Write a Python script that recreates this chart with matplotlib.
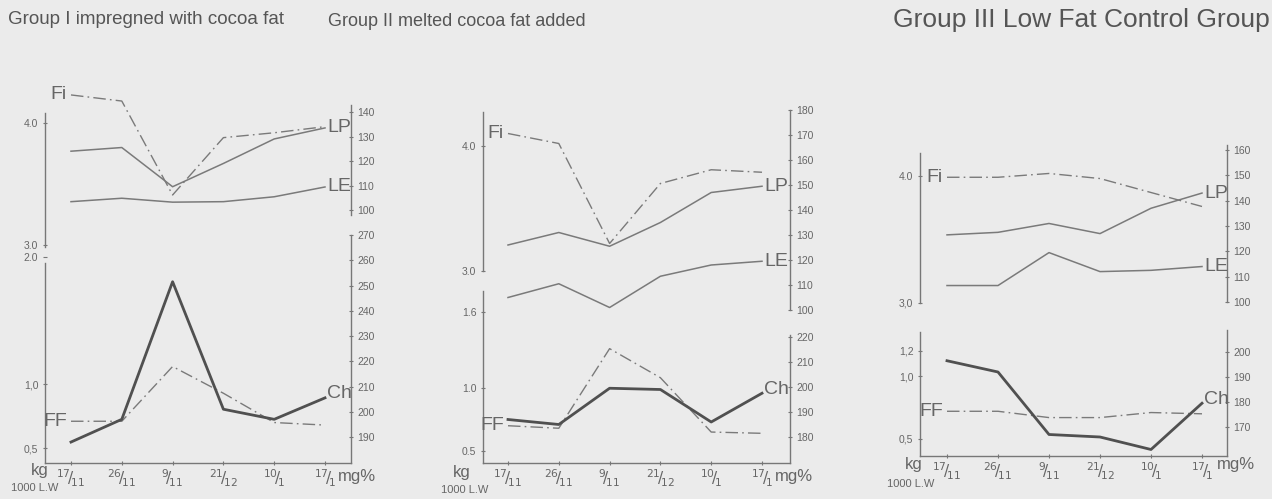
import matplotlib
matplotlib.use("Agg")
import matplotlib.pyplot as plt

# ---------------------------------------------------------------------------
# Data (six sampling dates per group)
# ---------------------------------------------------------------------------
dates = ["17/11", "26/11", "9/11", "21/12", "10/1", "17/1"]

# Group I: impregned with cocoa fat
g1_fi = [4.23, 4.18, 3.41, 3.88, 3.92, 3.97]
g1_lp = [124.0, 125.5, 109.5, 119.0, 129.0, 133.5]
g1_le = [103.4, 104.8, 103.2, 103.4, 105.4, 109.4]
g1_ff = [0.71, 0.71, 1.14, 0.93, 0.70, 0.68]
g1_ch = [188.0, 197.0, 251.5, 201.0, 197.0, 205.5]

# Group II: melted cocoa fat added
g2_fi = [4.10, 4.02, 3.22, 3.70, 3.81, 3.79]
g2_lp = [126.0, 131.0, 125.5, 135.0, 147.0, 149.5]
g2_le = [105.0, 110.5, 101.0, 113.5, 118.0, 119.5]
g2_ff = [0.70, 0.68, 1.31, 1.08, 0.65, 0.64]
g2_ch = [187.0, 185.0, 199.5, 199.0, 186.0, 197.5]

# Group III: low fat control group
g3_fi = [3.99, 3.99, 4.02, 3.98, 3.87, 3.76]
g3_lp = [126.5, 127.5, 131.0, 127.0, 137.0, 143.0]
g3_le = [106.5, 106.5, 119.5, 112.0, 112.5, 114.0]
g3_ff = [0.72, 0.72, 0.67, 0.67, 0.71, 0.70]
g3_ch = [196.5, 192.0, 167.0, 166.0, 161.0, 179.5]

titles = ["Group I impregned with cocoa fat",
          "Group II melted cocoa fat added",
          "Group III Low Fat Control Group"]

# tick labels as printed (the original mixes "." and ",")
g1_top_left = ([4.0, 3.0], ["4.0", "3.0"])
g1_bot_left = ([2.0, 1.0, 0.5], ["2.0", "1,0", "0,5"])
g2_top_left = ([4.0, 3.0], ["4.0", "3.0"])
g2_bot_left = ([1.6, 1.0, 0.5], ["1.6", "1.0", "0.5"])
g3_top_left = ([4.0, 3.0], ["4.0", "3,0"])
g3_bot_left = ([1.2, 1.0, 0.5], ["1,2", "1,0", "0,5"])
g1_top_right = list(range(100, 141, 10))
g1_bot_right = list(range(190, 271, 10))
g2_top_right = list(range(100, 181, 10))
g2_bot_right = list(range(180, 221, 10))
g3_top_right = list(range(100, 161, 10))
g3_bot_right = list(range(170, 201, 10))

# ---------------------------------------------------------------------------
W, H = 1272, 499
BG = "#ebebeb"
INK = "#666666"
LINE = "#7a7a7a"
CH = "#505050"
DASHDOT = (0, (9, 3, 1.2, 3))
plt.rcParams["font.family"] = ["Liberation Sans", "DejaVu Sans"]

fig = plt.figure(figsize=(W / 100, H / 100), dpi=100, facecolor=BG)


def rect(x0, y0, x1, y1):
    return [x0 / W, 1 - y1 / H, (x1 - x0) / W, (y1 - y0) / H]


def lim(cal, y0, y1):
    v1, p1, v2, p2 = cal
    s = (v2 - v1) / (p2 - p1)
    return v1 + (y1 - p1) * s, v1 + (y0 - p1) * s


def style(ax, spines):
    ax.set_facecolor("none")
    for name, sp in ax.spines.items():
        sp.set_visible(name in spines)
        sp.set_color("#777777")
        sp.set_linewidth(1.0)
    ax.tick_params(colors="#777777", labelcolor=INK, labelsize=7.5,
                   length=2.5, width=0.8, direction="inout")


def group(geo, fi, lp, le, ff, ch, tl, tr, bl, br, bounds):
    xl, xr, xf, xe = geo["x"]
    ppx = (xe - xf) / 5.0
    xlim = ((xl - xf) / ppx, (xr - xf) / ppx)
    xs = list(range(len(dates)))

    # upper block: Fi (left scale) and LP / LE (right scale)
    ty0, ty1 = geo["top"]
    at = fig.add_axes(rect(xl, ty0, xr, ty1))
    at.set_xlim(*xlim)
    at.set_ylim(*lim(geo["tl"], ty0, ty1))
    style(at, ["left"])
    at.set_xticks([])
    at.set_yticks(tl[0], tl[1])
    at.spines["left"].set_bounds(*bounds["tl"])
    atr = at.twinx()
    atr.set_ylim(*lim(geo["tr"], ty0, ty1))
    style(atr, ["right"])
    atr.set_yticks(tr, [str(v) for v in tr])
    atr.spines["right"].set_bounds(*bounds["tr"])

    at.plot(xs, fi, color=LINE, lw=1.0, linestyle=DASHDOT)
    atr.plot(xs, lp, color=LINE, lw=1.1)
    atr.plot(xs, le, color=LINE, lw=1.1)
    at.annotate("Fi", (0, fi[0]), xytext=(-4, 0), textcoords="offset pixels",
                ha="right", va="center", fontsize=14, color=INK)
    atr.annotate("LP", (5, lp[-1]), xytext=(2, 0), textcoords="offset pixels",
                 ha="left", va="center", fontsize=14, color=INK)
    atr.annotate("LE", (5, le[-1]), xytext=(2, 0), textcoords="offset pixels",
                 ha="left", va="center", fontsize=14, color=INK)

    # lower block: FF (left scale) and Ch (right scale)
    by0, by1 = geo["bot"]
    ab = fig.add_axes(rect(xl, by0, xr, by1))
    ab.set_xlim(*xlim)
    ab.set_ylim(*lim(geo["bl"], by0, by1))
    style(ab, ["left", "bottom"])
    ab.set_yticks(bl[0], bl[1])
    ab.spines["left"].set_bounds(ab.get_ylim()[0], bounds["bl"])
    ab.set_xticks(xs, [r"${}^{%s}\!/\!{}_{%s}$" % tuple(d.split("/")) for d in dates])
    ab.tick_params(axis="x", labelsize=11, pad=2)
    abr = ab.twinx()
    abr.set_ylim(*lim(geo["br"], by0, by1))
    style(abr, ["right"])
    abr.set_yticks(br, [str(v) for v in br])
    abr.spines["right"].set_bounds(abr.get_ylim()[0], bounds["br"])

    ab.plot(xs, ff, color=LINE, lw=1.0, linestyle=DASHDOT)
    abr.plot(xs, ch, color=CH, lw=2.0)
    ab.annotate("FF", (0, ff[0]), xytext=(-4, 0), textcoords="offset pixels",
                ha="right", va="center", fontsize=14, color=INK)
    abr.annotate("Ch", (5, ch[-1]), xytext=(2, 4), textcoords="offset pixels",
                 ha="left", va="center", fontsize=14, color=INK)

    kx, ky, lx, ly = geo["kg"]
    fig.text(kx / W, 1 - ky / H, "kg", fontsize=12, color=INK, ha="center", va="center")
    fig.text(lx / W, 1 - ly / H, "1000 L.W", fontsize=8, color=INK,
             ha="right", va="center")
    mx, my = geo["mg"]
    fig.text(mx / W, 1 - my / H, "mg%", fontsize=12, color=INK, ha="left", va="center")

    tx, tyy, tfs = geo["title"]
    fig.text(tx / W, 1 - tyy / H, geo["name"], fontsize=tfs, color="#555555",
             ha="left", va="center")


geo1 = dict(x=(45, 351, 71, 325), top=(90, 250), tl=(4.0, 123, 3.0, 245),
            tr=(100, 210, 140, 112), bot=(230, 463), bl=(2.0, 257, 0.5, 448),
            br=(190, 437, 270, 235), kg=(40, 471, 58, 488), mg=(338, 477),
            title=(8, 20, 13.5), name=titles[0])
geo2 = dict(x=(483, 790, 508, 762), top=(100, 315), tl=(4.0, 146, 3.0, 271),
            tr=(100, 310, 180, 110), bot=(285, 463), bl=(1.6, 312, 0.5, 451),
            br=(180, 437, 220, 337), kg=(462, 472, 488, 490), mg=(775, 477),
            title=(328, 22, 13), name=titles[1])
geo3 = dict(x=(920, 1227, 947, 1202), top=(140, 310), tl=(4.0, 176, 3.0, 303),
            tr=(100, 302, 160, 150), bot=(325, 456), bl=(1.0, 376, 0.5, 439),
            br=(170, 427, 200, 352), kg=(914, 464, 934, 484), mg=(1217, 464),
            title=(893, 20, 19), name=titles[2])

group(geo1, g1_fi, g1_lp, g1_le, g1_ff, g1_ch, g1_top_left, g1_top_right,
      g1_bot_left, g1_bot_right, dict(tl=(2.98, 4.08), tr=(98, 143), bl=1.95, br=270))
group(geo2, g2_fi, g2_lp, g2_le, g2_ff, g2_ch, g2_top_left, g2_top_right,
      g2_bot_left, g2_bot_right, dict(tl=(3.0, 4.27), tr=(100, 180), bl=1.77, br=221))
group(geo3, g3_fi, g3_lp, g3_le, g3_ff, g3_ch, g3_top_left, g3_top_right,
      g3_bot_left, g3_bot_right, dict(tl=(3.0, 4.18), tr=(100, 162), bl=1.35, br=209))

fig.savefig("out.png", dpi=100, facecolor=BG)
